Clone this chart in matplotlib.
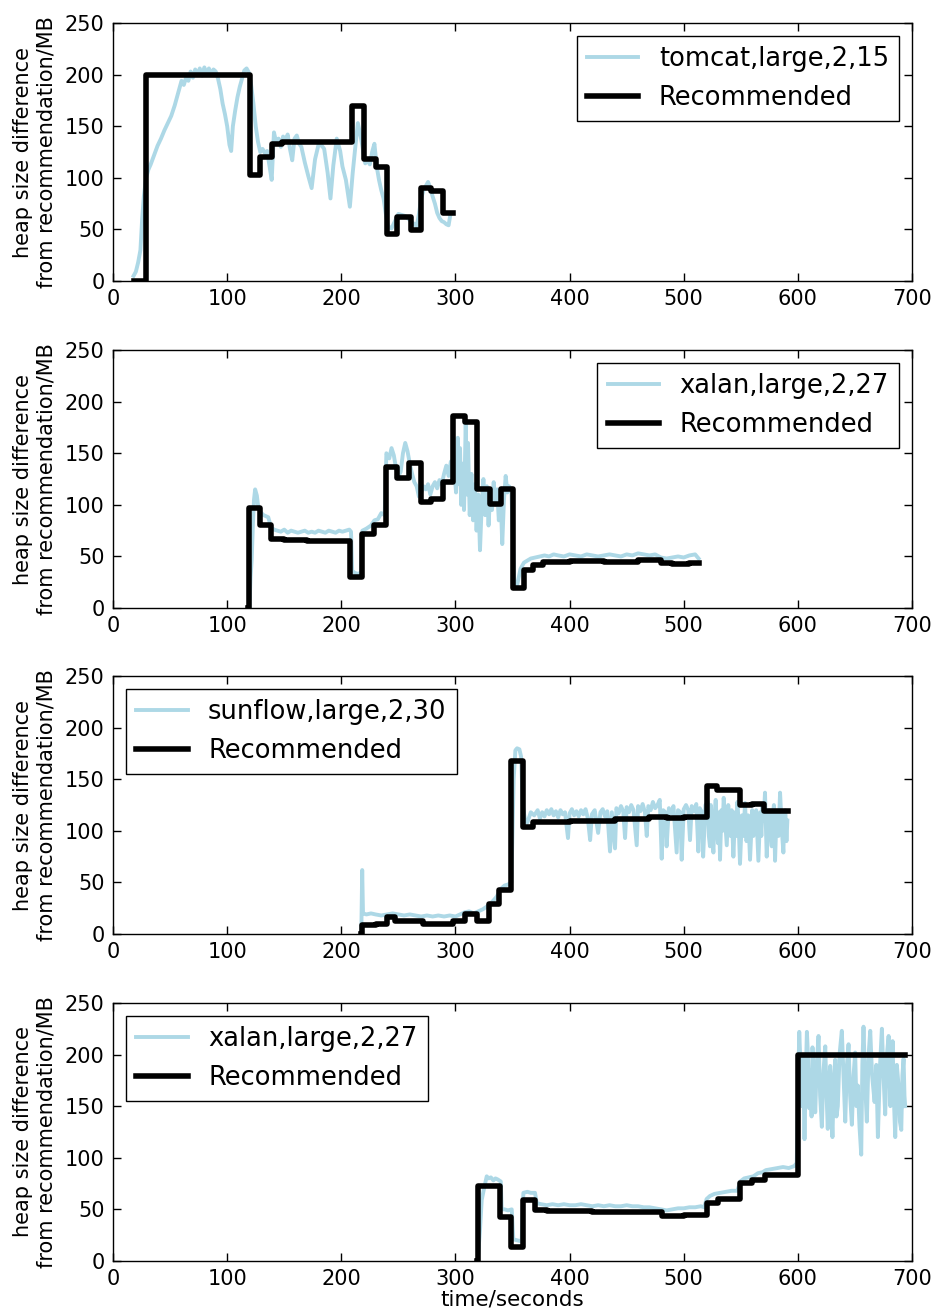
"""Heap size difference vs recommendation, four benchmark runs."""
import matplotlib
matplotlib.use("Agg")
import matplotlib.pyplot as plt

# ---- panel 1: tomcat,large,2,15 ----
rec1_t = [18, 29, 120, 129, 139, 148, 209, 220, 230, 240, 249, 261, 270, 279, 289, 298]
rec1_v = [0, 200, 103, 120, 133, 135, 170, 118, 110, 46, 62, 49, 90, 87, 66, 66]
obs1_t = [18, 20, 22, 24, 25.5, 27, 29, 31, 33, 36, 39, 42, 45, 48, 51, 54, 56, 58, 60, 62,
          64, 66, 68, 70, 72, 74, 76, 78, 80, 82, 84, 86, 88, 90, 92, 94, 96, 98, 100, 102,
          103.5, 105, 107, 109, 111, 113, 115, 117, 119, 121, 123, 125, 127, 129, 131, 133, 135, 137, 139, 141,
          143, 145, 147, 149, 151, 153, 155, 157, 159, 161, 163, 165, 168, 171, 174, 177, 180, 183, 185, 188,
          190.5, 193, 196, 199, 201, 204, 207.5, 210, 212, 214.5, 217, 219, 221, 223, 225, 227, 229, 231, 233, 235,
          237, 239, 241, 244, 247, 250, 253, 256, 259, 262, 264, 266, 268, 270, 272, 274, 276, 278, 280, 282,
          284, 286, 288, 290, 292, 294, 295.5]
obs1_v = [5, 9, 18, 30, 60, 82, 100, 108, 113, 122, 131, 138, 146, 153, 160, 170, 178, 186, 194, 190,
          197, 194, 203, 197, 205, 200, 206, 199, 207, 201, 206, 200, 205, 203, 196, 186, 172, 162, 150, 132,
          126, 150, 165, 178, 188, 196, 204, 206, 202, 190, 172, 150, 135, 125, 128, 124, 126, 112, 98, 144,
          134, 138, 130, 140, 136, 142, 128, 117, 138, 141, 133, 130, 115, 102, 90, 118, 132, 131, 128, 105,
          80, 112, 138, 126, 111, 98, 72, 105, 127, 153, 140, 127, 114, 117, 113, 125, 133, 111, 98, 88,
          80, 65, 53, 51, 58, 65, 64, 63, 60, 57, 55, 53, 65, 80, 88, 92, 96, 90, 82, 75,
          66, 61, 58, 57, 55, 54, 64]

# ---- panel 2: xalan,large,2,27 ----
rec2_t = [118, 119.5, 129, 138, 150, 170, 208, 218, 229, 239, 249, 259, 270, 279, 289, 298,
          308, 319, 330, 340, 350, 360, 368, 377, 400, 430, 460, 480, 490, 505, 513]
rec2_v = [0, 97, 80, 67, 66, 65, 30, 72, 80, 137, 126, 141, 103, 106, 122, 186,
          180, 115, 101, 115, 19, 37, 42, 45, 46, 45, 47, 44, 43, 44, 44]
obs2_t = [119.5, 120.5, 121.5, 122.5, 123.5, 124.5, 126, 127, 128.5, 130, 132, 134, 136, 137.5, 139, 141,
          144, 147, 150, 153, 156, 159, 162, 165, 168, 171, 174, 177, 180, 183, 186, 189,
          192, 195, 198, 201, 204, 207, 208.5, 209.5, 212, 215, 217.5, 218.5, 222, 226, 229, 232,
          235, 238, 239.5, 242, 244, 246, 248, 250, 252, 254, 256, 258, 260, 262, 264, 266,
          268, 270, 272, 274, 276, 278, 280, 282, 284, 286, 288, 290, 292, 294, 296, 297.5,
          299, 300.5, 302, 303, 304, 305, 306.5, 307.5, 309, 310, 311, 312.5, 314, 315.5, 317, 318.5,
          320, 321.5, 323, 324.5, 326, 327.5, 329, 330.5, 332, 333.5, 335, 336.5, 338, 339.5, 341, 342.5,
          344, 345.5, 347, 349, 350.5, 351.5, 354, 357, 360, 363, 366, 370, 374, 378, 382, 386,
          390, 395, 400, 405, 410, 415, 420, 425, 430, 435, 440, 445, 450, 455, 460, 465,
          470, 475, 480, 485, 490, 495, 500, 505, 510, 513]
obs2_v = [0, 30, 47, 80, 105, 115, 109, 100, 95, 92, 90, 89, 88, 82, 78, 76,
          75, 74, 76, 73, 75, 74, 73, 74, 75, 73, 74, 73, 75, 74, 73, 75,
          74, 73, 75, 74, 75, 76, 74, 36, 34, 33, 35, 75, 77, 80, 85, 86,
          92, 90, 150, 145, 155, 148, 135, 128, 132, 150, 160, 152, 140, 130, 122, 118,
          108, 112, 118, 115, 120, 110, 118, 122, 116, 124, 120, 130, 138, 128, 142, 122,
          135, 112, 165, 120, 155, 100, 140, 95, 180, 110, 160, 90, 130, 85, 120, 75,
          110, 56, 100, 125, 90, 118, 80, 112, 95, 122, 100, 115, 85, 110, 62, 105,
          128, 112, 118, 115, 60, 24, 22, 38, 44, 46, 48, 49, 50, 51, 50, 52,
          51, 50, 52, 51, 50, 52, 51, 50, 51, 52, 51, 50, 52, 51, 53, 52,
          51, 52, 49, 48, 49, 50, 49, 51, 52, 48]

# ---- panel 3: sunflow,large,2,30 ----
rec3_t = [217, 218, 230, 240, 247, 272, 298, 308, 319, 329, 338, 349, 359, 368, 400, 440,
          470, 485, 500, 520, 529, 549, 560, 570, 591]
rec3_v = [0, 9, 10, 17, 13, 10, 13, 19, 13, 29, 43, 168, 104, 109, 110, 111,
          113, 112, 113, 143, 140, 125, 126, 119, 119]
obs3_t = [217.5, 218.3, 219, 222, 226, 230, 235, 240, 245, 250, 255, 260, 265, 270, 275, 280,
          285, 290, 295, 300, 304, 308, 312, 316, 320, 324, 328, 332, 336, 340, 343, 346,
          349, 351, 352.5, 354, 356, 357.5, 359, 361, 363, 366, 369, 372, 374, 376, 378, 380,
          382, 384, 386, 388, 390, 392, 394, 396, 398.6, 400, 402, 404, 406, 408, 410, 412,
          414, 416, 418, 419.5, 422, 425, 427, 429, 431, 433, 435.4, 437, 439.8, 441, 443, 445,
          447, 448.6, 450, 452, 454, 456, 458.8, 460, 462, 464, 466, 467.6, 469, 471, 473, 475,
          477, 479, 480.7, 482, 484, 485, 487, 489, 491, 493.8, 495, 497, 498.2, 500, 502, 504,
          505.5, 507, 509, 511, 512.8, 514, 516, 517, 519,
          521, 522, 523, 523.7, 524.5, 526, 527, 528, 529, 530, 531, 531.8, 533, 534, 535, 536.3,
          537.7, 539, 540, 541, 542, 543.5, 545, 546, 547, 548, 549.3, 551, 552.3, 553.7, 555, 556.5,
          558.1, 560, 561, 562, 563.5, 565.4, 567, 568, 569, 570, 571.2, 572.7, 574, 575, 576, 577.1,
          578, 579, 580, 581, 582, 583, 584.4, 586, 587.3, 588, 589, 590, 590.8]
obs3_v = [0, 62, 20, 19, 20, 19, 18, 19, 20, 19, 18, 19, 18, 17, 18, 17,
          18, 17, 18, 17, 19, 21, 22, 20, 22, 24, 27, 31, 36, 44, 47, 48,
          50, 150, 178, 180, 179, 172, 125, 110, 108, 118, 115, 120, 112, 118, 114, 120,
          116, 121, 115, 119, 113, 120, 116, 118, 93, 117, 121, 115, 119, 114, 120, 116,
          121, 112, 91, 116, 120, 98, 118, 121, 114, 119, 80, 118, 83, 122, 117, 124,
          119, 93, 123, 118, 125, 120, 86, 124, 119, 126, 118, 95, 124, 120, 128, 122,
          125, 130, 73, 120, 118, 85, 122, 117, 124, 79, 120, 118, 72, 121, 125, 120,
          91, 124, 119, 126, 80, 122, 118, 75, 125,
          128, 95, 85, 125, 100, 79, 115, 130, 105, 88, 118, 72, 120, 100, 132, 110,
          86, 125, 105, 95, 120, 75, 118, 95, 128, 110, 68, 115, 95, 127, 90, 115,
          72, 120, 95, 100, 120, 71, 118, 95, 125, 110, 137, 75, 110, 120, 100, 85,
          115, 125, 71, 105, 118, 95, 137, 100, 79, 110, 120, 90, 110]

# ---- panel 4: xalan,large,2,27 ----
rec4_t = [319, 320, 339, 349, 359, 370, 380, 420, 481, 500, 520, 530, 549, 560, 571, 600, 694]
rec4_v = [0, 73, 43, 14, 59, 49, 48, 47, 44, 45, 56, 60, 76, 78, 83, 200, 200]
obs4_t = [319.5, 321.5, 323, 325, 327.4, 329, 331, 333.2, 335, 337, 339.7, 340.5, 343, 346, 349.3, 350.7,
          354, 358, 359.5, 363, 366, 369.7, 371.2, 375, 380, 385, 390, 395, 400, 405, 410, 415,
          420, 425, 430, 435, 440, 445, 450, 455, 460, 465, 470, 475, 480, 485, 490, 495,
          500, 505, 510, 515, 518, 520, 523, 527, 532, 537, 542, 547, 549.5, 553, 557, 561,
          565, 569, 572, 577, 582, 587, 592, 597, 599,
          600.5, 601.2, 602.3, 603.5, 604.5, 605.8, 606.8, 607.9, 608.8, 609.9, 611, 612, 612.8, 614, 615.2, 616.5,
          618.1, 619.5, 621, 622.5, 624, 625, 626.2, 627.2, 628.3, 629.3, 630.3, 631.5, 632.7, 633.8, 635, 636.5,
          638.5, 640, 641.5, 643, 644.4, 645.8, 647.3, 648.8, 650.2, 651.3, 652.5, 654, 655.5, 656.5, 657.5, 659,
          660.4, 662, 663.4, 665, 667.2, 668.7, 670.1, 672, 673.6, 675, 676.5, 678, 679.5, 681, 683, 684,
          685.3, 686.7, 688.2, 689.4, 690.6, 691.6, 692.6, 693.4, 694]
obs4_v = [0, 30, 59, 70, 82, 80, 81, 78, 80, 79, 77, 50, 50, 49, 50, 21,
          20, 19, 66, 67, 66, 66, 56, 55, 54, 55, 54, 55, 54, 54, 55, 54,
          53, 54, 53, 54, 53, 53, 54, 53, 53, 52, 52, 51, 50, 49, 50, 51,
          51, 52, 52, 53, 52, 60, 63, 65, 66, 67, 68, 68, 77, 80, 81, 82,
          85, 86, 88, 89, 90, 91, 90, 92, 95,
          180, 222, 190, 150, 200, 118, 175, 222, 200, 148, 185, 140, 207, 175, 144, 190,
          218, 160, 130, 185, 208, 165, 128, 170, 189, 150, 120, 175, 195, 140, 150, 200,
          223, 180, 135, 190, 210, 160, 132, 180, 202, 150, 170, 130, 103, 190, 227, 170,
          135, 200, 223, 180, 154, 190, 120, 190, 225, 180, 142, 200, 218, 150, 213, 160,
          120, 190, 170, 135, 127, 180, 196, 160, 150]

LABELS = ["tomcat,large,2,15", "xalan,large,2,27", "sunflow,large,2,30", "xalan,large,2,27"]
LEGEND_LOC = ["upper right", "upper right", "upper left", "upper left"]
panels = [
    (rec1_t, rec1_v, obs1_t, obs1_v),
    (rec2_t, rec2_v, obs2_t, obs2_v),
    (rec3_t, rec3_v, obs3_t, obs3_v),
    (rec4_t, rec4_v, obs4_t, obs4_v),
]

fig = plt.figure(figsize=(9.38, 13.15), dpi=100)
bottoms = [0.7863, 0.5376, 0.2897, 0.0411]

for i, (rt, rv, ot, ov) in enumerate(panels):
    ax = fig.add_axes([0.1205, bottoms[i], 0.8518, 0.1962])
    ax.plot(ot, ov, color="#add8e6", lw=2.8, label=LABELS[i])
    ax.step(rt, rv, where="post", color="black", lw=4.0, label="Recommended")
    ax.set_xlim(0, 700)
    ax.set_ylim(0, 250)
    ax.set_xticks(range(0, 701, 100))
    ax.set_yticks(range(0, 251, 50))
    ax.tick_params(direction="in", top=True, right=True, length=6, width=1,
                   labelsize=15, pad=6)
    for s in ax.spines.values():
        s.set_linewidth(1.0)
    ax.set_ylabel("heap size difference\nfrom recommendation/MB", fontsize=15,
                  linespacing=1.2, labelpad=6)
    leg = ax.legend(loc=LEGEND_LOC[i], fontsize=18.5, fancybox=False,
                    edgecolor="black", framealpha=1, handlelength=2.0)
    leg.get_frame().set_linewidth(1.0)
    if i == 3:
        ax.set_xlabel("time/seconds", fontsize=15.5, labelpad=0)

fig.savefig("out.png", dpi=100, facecolor="white")
